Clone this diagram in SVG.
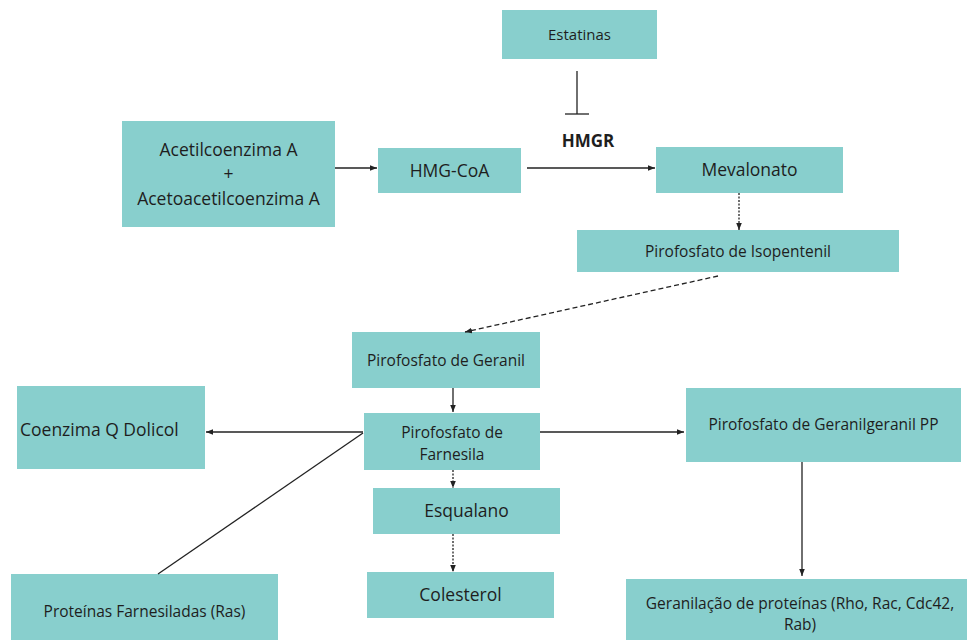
<svg xmlns="http://www.w3.org/2000/svg" width="967" height="640" viewBox="0 0 967 640">
<style>
.box{fill:#88cfcd}
text{font-family:"Open Sans","Noto Sans","Liberation Sans",sans-serif;fill:#1e1e1e;text-anchor:middle}
.s{font-size:15.5px}
.m{font-size:17.5px}
.ln{stroke:#222;stroke-width:1.3;fill:none}
.dot{stroke-dasharray:2 1.5}
.dash{stroke-dasharray:5 3}
</style>
<defs>
<marker id="ah" viewBox="0 0 10 10" refX="10" refY="5" markerWidth="7" markerHeight="7" orient="auto" markerUnits="userSpaceOnUse">
<path d="M0,1 L10,5 L0,9 z" fill="#222"/>
</marker>
</defs>
<rect width="967" height="640" fill="#fff"/>

<g id="estatinas"><rect class="box" x="502" y="10" width="155" height="49"/><text x="579.5" y="40" style="font-size:15px">Estatinas</text></g>
<g id="hmgr"><text x="588" y="147" style="font-size:17px;font-weight:bold">HMGR</text></g>
<g id="acetil"><rect class="box" x="122" y="121" width="213" height="106"/>
<text class="m" x="228.5" y="156">Acetilcoenzima A</text>
<text class="m" x="228.5" y="180">+</text>
<text class="m" x="228.5" y="205">Acetoacetilcoenzima A</text></g>
<g id="hmgcoa"><rect class="box" x="378" y="148" width="143" height="45"/><text class="m" x="449.5" y="177">HMG-CoA</text></g>
<g id="mevalonato"><rect class="box" x="656" y="147" width="187" height="46"/><text class="m" x="749.5" y="176">Mevalonato</text></g>
<g id="isopentenil"><rect class="box" x="577" y="230" width="322" height="42"/><text class="s" x="738" y="257">Pirofosfato de Isopentenil</text></g>
<g id="geranil"><rect class="box" x="352" y="332" width="188" height="56"/><text class="s" x="446" y="366">Pirofosfato de Geranil</text></g>
<g id="farnesila"><rect class="box" x="364" y="413" width="176" height="57"/>
<text class="s" x="452" y="438">Pirofosfato de</text>
<text class="s" x="452" y="460">Farnesila</text></g>
<g id="coenzima"><rect class="box" x="17" y="386" width="188" height="83"/><text x="20" y="436" style="font-size:17.5px;text-anchor:start">Coenzima Q Dolicol</text></g>
<g id="geranilgeranil"><rect class="box" x="686" y="388" width="275" height="74"/><text class="s" x="823.5" y="430">Pirofosfato de Geranilgeranil PP</text></g>
<g id="esqualano"><rect class="box" x="373" y="488" width="187" height="46"/><text class="m" x="466.5" y="517">Esqualano</text></g>
<g id="colesterol"><rect class="box" x="367" y="572" width="187" height="46"/><text class="m" x="460.5" y="601">Colesterol</text></g>
<g id="proteinas"><rect class="box" x="11" y="574" width="267" height="66"/><text class="s" x="144.5" y="617">Proteínas Farnesiladas (Ras)</text></g>
<g id="geranilacao"><rect class="box" x="626" y="579" width="341" height="61"/>
<text class="s" x="800" y="609">Geranilação de proteínas (Rho, Rac, Cdc42,</text>
<text class="s" x="800" y="630">Rab)</text></g>

<g id="connectors">
<line class="ln" x1="577" y1="71" x2="577" y2="114"/>
<line class="ln" x1="565" y1="114" x2="589" y2="114"/>
<line class="ln" x1="335" y1="168" x2="377" y2="168" marker-end="url(#ah)"/>
<line class="ln" x1="527" y1="168" x2="655" y2="168" marker-end="url(#ah)"/>
<line class="ln dot" x1="739" y1="193" x2="739" y2="230" marker-end="url(#ah)"/>
<line class="ln dash" x1="718" y1="276" x2="465" y2="332" marker-end="url(#ah)"/>
<line class="ln" x1="453" y1="388" x2="453" y2="412" marker-end="url(#ah)"/>
<line class="ln" x1="363" y1="432" x2="206" y2="432" marker-end="url(#ah)"/>
<line class="ln" x1="363" y1="433" x2="158" y2="574"/>
<line class="ln" x1="540" y1="432" x2="684" y2="432" marker-end="url(#ah)"/>
<line class="ln dot" x1="453" y1="470" x2="453" y2="488" marker-end="url(#ah)"/>
<line class="ln dot" x1="453" y1="534" x2="453" y2="572" marker-end="url(#ah)"/>
<line class="ln" x1="802" y1="462" x2="802" y2="576" marker-end="url(#ah)"/>
</g>
</svg>
